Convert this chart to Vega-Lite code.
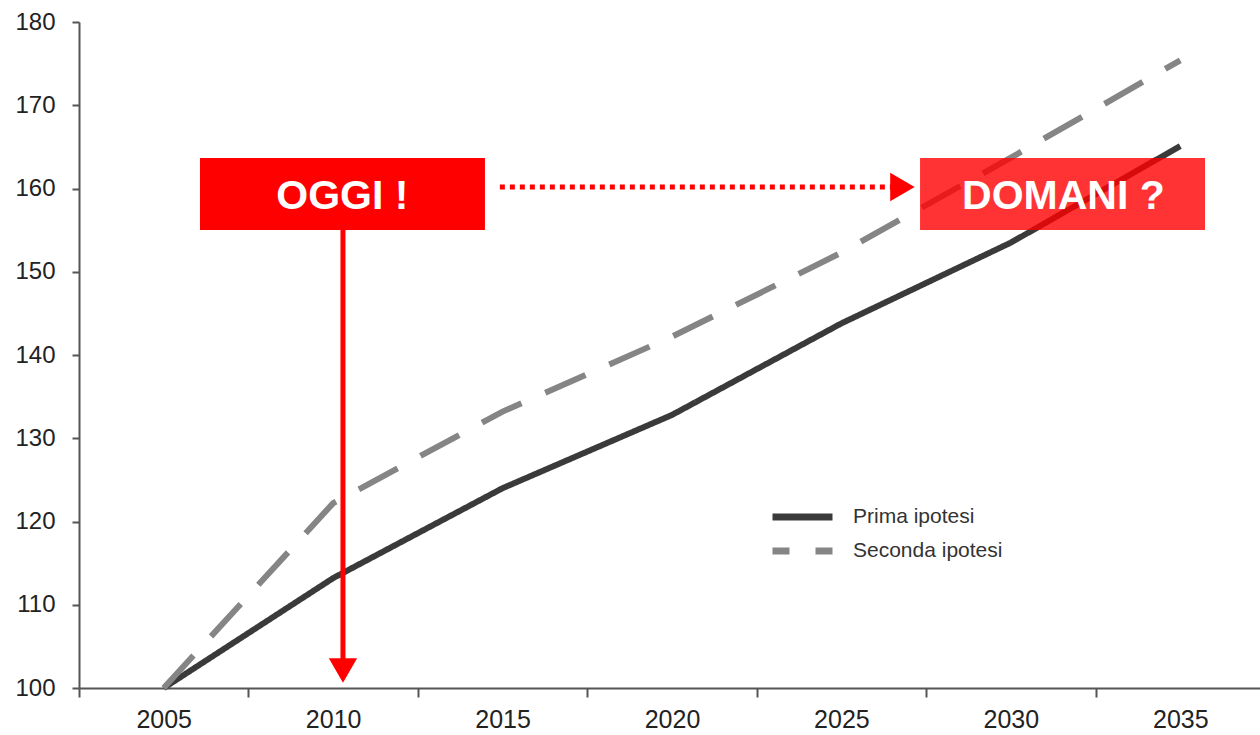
{
  "$schema": "https://vega.github.io/schema/vega-lite/v6.json",
  "autosize": "none",
  "width": 1186,
  "height": 666,
  "padding": {"left": 79, "top": 22, "right": 0, "bottom": 47},
  "background": "white",
  "config": {
    "view": {"stroke": null},
    "font": "Liberation Sans"
  },
  "layer": [
    {
      "data": {
        "values": [
          {"anno": 2005, "valore": 100, "ipotesi": "Prima ipotesi"},
          {"anno": 2010, "valore": 113.2, "ipotesi": "Prima ipotesi"},
          {"anno": 2015, "valore": 124.0, "ipotesi": "Prima ipotesi"},
          {"anno": 2020, "valore": 132.8, "ipotesi": "Prima ipotesi"},
          {"anno": 2025, "valore": 143.8, "ipotesi": "Prima ipotesi"},
          {"anno": 2030, "valore": 153.5, "ipotesi": "Prima ipotesi"},
          {"anno": 2035, "valore": 165.1, "ipotesi": "Prima ipotesi"},
          {"anno": 2005, "valore": 100, "ipotesi": "Seconda ipotesi"},
          {"anno": 2010, "valore": 122.2, "ipotesi": "Seconda ipotesi"},
          {"anno": 2015, "valore": 133.2, "ipotesi": "Seconda ipotesi"},
          {"anno": 2020, "valore": 142.2, "ipotesi": "Seconda ipotesi"},
          {"anno": 2025, "valore": 152.3, "ipotesi": "Seconda ipotesi"},
          {"anno": 2030, "valore": 163.7, "ipotesi": "Seconda ipotesi"},
          {"anno": 2035, "valore": 175.4, "ipotesi": "Seconda ipotesi"}
        ]
      },
      "mark": {"type": "line", "strokeWidth": 6, "strokeCap": "butt"},
      "encoding": {
        "x": {
          "field": "anno", "type": "quantitative",
          "scale": {"domain": [2002.5, 2037.5], "nice": false, "zero": false},
          "axis": {
            "title": null, "grid": false,
            "values": [2005, 2010, 2015, 2020, 2025, 2030, 2035],
            "format": "d",
            "tickOffset": -84.7, "labelOffset": 84.7,
            "tickSize": 9, "tickWidth": 2, "tickColor": "#555",
            "domainColor": "#555", "domainWidth": 2,
            "labelFontSize": 25, "labelColor": "#222", "labelPadding": 10,
            "labelFont": "Liberation Sans"
          }
        },
        "y": {
          "field": "valore", "type": "quantitative",
          "scale": {"domain": [100, 180], "nice": false, "zero": false},
          "axis": {
            "title": null, "grid": false,
            "values": [100, 110, 120, 130, 140, 150, 160, 170, 180],
            "tickSize": 7, "tickWidth": 2, "tickColor": "#555",
            "domainColor": "#555", "domainWidth": 2,
            "labelFontSize": 24, "labelColor": "#222", "labelPadding": 17,
            "labelFont": "Liberation Sans"
          }
        },
        "color": {
          "field": "ipotesi", "type": "nominal",
          "scale": {"domain": ["Prima ipotesi", "Seconda ipotesi"], "range": ["#3a3a3a", "#858585"]},
          "legend": {
            "title": null, "orient": "none", "legendX": 690, "legendY": 478,
            "symbolType": "stroke", "symbolSize": 3600, "symbolStrokeWidth": 7,
            "symbolDashOffset": 27,
            "clipHeight": 34, "rowPadding": 0, "labelOffset": 17,
            "labelFontSize": 21, "labelColor": "#333", "labelFont": "Liberation Sans"
          }
        },
        "strokeDash": {
          "field": "ipotesi", "type": "nominal",
          "scale": {"domain": ["Prima ipotesi", "Seconda ipotesi"], "range": [[1, 0], [44, 26]]},
          "legend": {
            "title": null, "orient": "none", "legendX": 690, "legendY": 478,
            "symbolType": "stroke", "symbolSize": 3600, "symbolStrokeWidth": 7,
            "symbolDashOffset": 27,
            "clipHeight": 34, "rowPadding": 0, "labelOffset": 17,
            "labelFontSize": 21, "labelColor": "#333", "labelFont": "Liberation Sans"
          }
        }
      }
    },
    {
      "data": {"values": [{"etichetta": "OGGI !", "x0": 2006.07, "x1": 2014.48, "y0": 155.02, "y1": 163.66}]},
      "mark": {"type": "rect", "color": "#ff0000", "opacity": 1},
      "encoding": {
        "x": {"field": "x0", "type": "quantitative"},
        "x2": {"field": "x1"},
        "y": {"field": "y0", "type": "quantitative"},
        "y2": {"field": "y1"}
      }
    },
    {
      "data": {"values": [{"etichetta": "DOMANI ?", "x0": 2027.32, "x1": 2035.73, "y0": 155.02, "y1": 163.66}]},
      "mark": {"type": "rect", "color": "#ff0000", "opacity": 0.8},
      "encoding": {
        "x": {"field": "x0", "type": "quantitative"},
        "x2": {"field": "x1"},
        "y": {"field": "y0", "type": "quantitative"},
        "y2": {"field": "y1"}
      }
    },
    {
      "data": {"values": [
        {"testo": "OGGI !", "anno": 2010.27, "valore": 159.0},
        {"testo": "DOMANI ?", "anno": 2031.55, "valore": 159.0}
      ]},
      "mark": {"type": "text", "color": "white", "fontSize": 41, "fontWeight": "bold", "font": "Liberation Sans", "align": "center", "baseline": "middle"},
      "encoding": {
        "x": {"field": "anno", "type": "quantitative"},
        "y": {"field": "valore", "type": "quantitative"},
        "text": {"field": "testo"}
      }
    },
    {
      "data": {"values": [{"anno": 2010.29, "da": 155.02, "a": 103.0}]},
      "mark": {"type": "rule", "color": "#ff0000", "strokeWidth": 5},
      "encoding": {
        "x": {"field": "anno", "type": "quantitative"},
        "y": {"field": "da", "type": "quantitative"},
        "y2": {"field": "a"}
      }
    },
    {
      "data": {"values": [{"da": 2014.92, "a": 2026.5, "valore": 160.18}]},
      "mark": {"type": "rule", "color": "#ff0000", "strokeWidth": 5, "strokeDash": [5, 5]},
      "encoding": {
        "x": {"field": "da", "type": "quantitative"},
        "x2": {"field": "a"},
        "y": {"field": "valore", "type": "quantitative"}
      }
    },
    {
      "data": {"values": [{"anno": 2010.29, "valore": 102.1}]},
      "mark": {"type": "point", "shape": "triangle-down", "filled": true, "color": "#ff0000", "opacity": 1, "size": 800},
      "encoding": {
        "x": {"field": "anno", "type": "quantitative"},
        "y": {"field": "valore", "type": "quantitative"}
      }
    },
    {
      "data": {"values": [{"anno": 2026.8, "valore": 160.18}]},
      "mark": {"type": "point", "shape": "triangle-right", "filled": true, "color": "#ff0000", "opacity": 1, "size": 800},
      "encoding": {
        "x": {"field": "anno", "type": "quantitative"},
        "y": {"field": "valore", "type": "quantitative"}
      }
    }
  ]
}
